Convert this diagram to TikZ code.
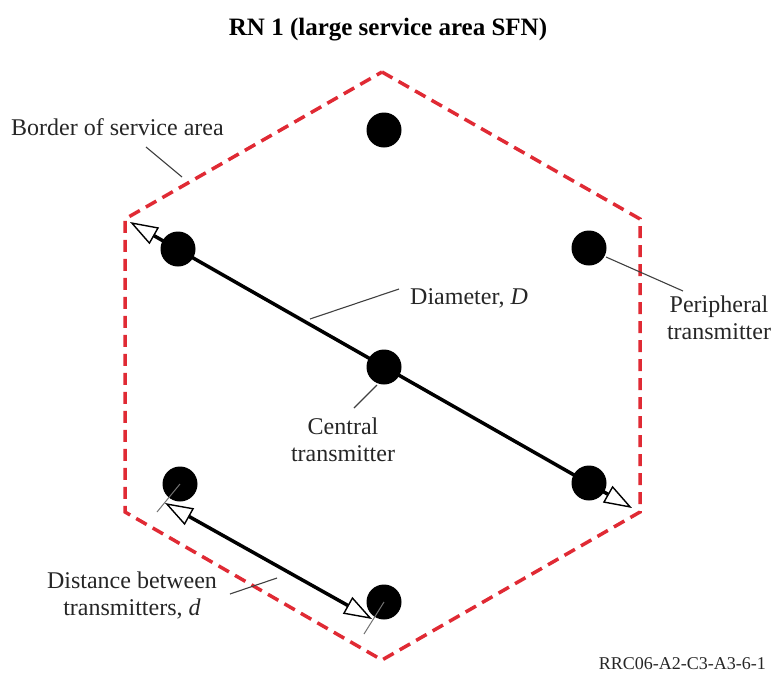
\documentclass[tikz,border=0pt]{standalone}
\usepackage{fontspec}
\setmainfont{Liberation Serif}
\usetikzlibrary{arrows.meta}
\definecolor{borderred}{RGB}{224,42,52}
\begin{document}
\begin{tikzpicture}[x=1pt,y=-1pt,
  tx/.style={font=\fontsize{24}{27}\selectfont, inner sep=0pt, text=black!85, align=center},
  dot/.style={circle, fill=black, minimum size=35pt, inner sep=0pt},
  leader/.style={line width=1.1pt, draw=black!75},
  tick/.style={line width=1pt, draw=black!55},
  border/.style={draw=borderred, line width=3.5pt, dash pattern=on 12pt off 7pt},
  dimline/.style={line width=3.5pt, draw=black, {Triangle[fill=white, length=28pt, width=19pt, line width=1.4pt]}-{Triangle[fill=white, length=28pt, width=19pt, line width=1.4pt]}},
]
\useasboundingbox (0,0) rectangle (774,683);

% title
\node[tx, font=\fontsize{25}{28}\selectfont\bfseries, text=black] (title) at (388,30) {RN 1 (large service area SFN)};

% hexagon border
\coordinate (vt) at (382,72);
\coordinate (vur) at (640,219);
\coordinate (vlr) at (640,512);
\coordinate (vb) at (382,660);
\coordinate (vll) at (125,512);
\coordinate (vul) at (125,219);
\draw[border] (vt) -- (vur) -- (vlr) -- (vb) -- (vll) -- (vul) -- cycle;

% arrows
\coordinate (da) at (130,222);
\coordinate (db) at (632,508);
\draw[dimline] (da) -- (db);
\coordinate (ea) at (165,503);
\coordinate (eb) at (372,619);
\draw[dimline] (ea) -- (eb);

% transmitters
\node[dot] (ttop) at (384,130) {};
\node[dot] (tul) at (178,249) {};
\node[dot] (tur) at (589,248) {};
\node[dot] (tc) at (384,367) {};
\node[dot] (tll) at (180,484) {};
\node[dot] (tlr) at (589,483) {};
\node[dot] (tb) at (384,602) {};

% extension ticks
\coordinate (k1) at (157,512);
\coordinate (k2) at (364,634);
\draw[tick] (tll.center) -- (k1);
\draw[tick] (tb.center) -- (k2);

% labels
\node[tx, anchor=west] (lborder) at (11,127) {Border of service area};
\node[tx, anchor=west] (ldiam) at (410,298) {Diameter, \textit{D}};
\node[tx] (lcentral) at (343,440) {Central\\transmitter};
\node[tx] (lperiph) at (719,318) {Peripheral\\transmitter};
\node[tx] (ldist) at (132,596) {Distance between\\transmitters, \textit{d}};
\node[tx, font=\fontsize{18}{20}\selectfont, anchor=east] (ref) at (766,664) {RRC06-A2-C3-A3-6-1};

% leaders
\coordinate (b1) at (146,147);
\coordinate (b2) at (182,177);
\draw[leader] (b1) -- (b2);
\coordinate (d1) at (399,289);
\coordinate (d2) at (310,319);
\draw[leader] (d1) -- (d2);
\coordinate (c1) at (377,385);
\coordinate (c2) at (354,408);
\draw[leader] (c1) -- (c2);
\coordinate (p1) at (606,257);
\coordinate (p2) at (683,291);
\draw[leader] (p1) -- (p2);
\coordinate (s1) at (230,594);
\coordinate (s2) at (277,578);
\draw[leader] (s1) -- (s2);
\end{tikzpicture}
\end{document}
